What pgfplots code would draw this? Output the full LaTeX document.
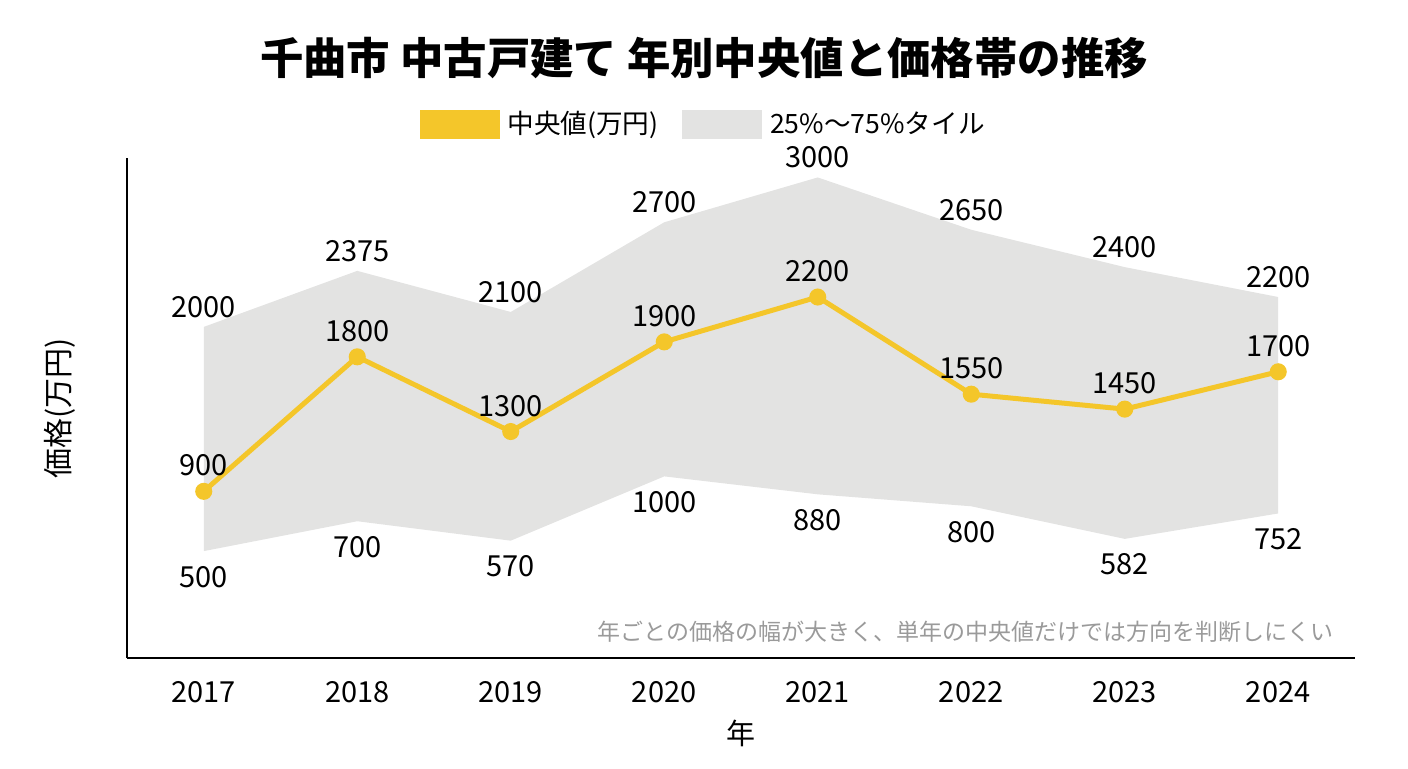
\documentclass[border=0pt]{standalone}
\usepackage{pgfplots}
\pgfplotsset{compat=1.18}
\usepackage{fontspec}
\setmainfont{Noto Sans CJK JP}
\definecolor{medyel}{HTML}{F4C62A}
\definecolor{bandgray}{HTML}{E3E3E2}
\definecolor{notegray}{HTML}{9A9A9A}
\begin{document}
\begin{tikzpicture}[x=1pt,y=1pt]
\path[use as bounding box] (0,0) rectangle (704,384);
\node[font=\fontsize{21.7}{26}\selectfont\bfseries] at (352,355) {千曲市 中古戸建て 年別中央値と価格帯の推移};
\begin{axis}[
  at={(63.5pt,55pt)}, anchor=south west,
  scale only axis, width=614pt, height=250pt,
  xmin=2016.5, xmax=2024.5, ymin=-215, ymax=3130,
  axis x line*=bottom, axis y line*=left,
  axis line style={line width=0.8pt, black},
  xtick={2017,...,2024}, ytick=\empty,
  major tick length=0pt,
  x tick label style={font=\fontsize{14.5}{17}\selectfont, yshift=-8pt},
  xticklabel={\pgfmathprintnumber[fixed,set thousands separator={}]{\tick}},
  /pgf/number format/assume math mode=true,
  /pgf/number format/set thousands separator={},
  xlabel={年}, xlabel style={font=\fontsize{14.5}{17}\selectfont, yshift=-2pt},
  clip=false,
  legend columns=2,
  legend style={draw=none, fill=none, at={(0.470,1.068)}, anchor=center, font=\fontsize{13.3}{16}\selectfont,
    /tikz/every odd column/.append style={column sep=2pt},
    /tikz/every even column/.append style={column sep=10pt}},
  legend cell align=left,
  nodes near coords style={font=\fontsize{14.5}{17}\selectfont},
]
\addlegendimage{legend image code/.code={\fill[medyel] (0pt,-7pt) rectangle (39.5pt,7pt);}}
\addlegendentry{中央値(万円)}
\addlegendimage{legend image code/.code={\fill[bandgray] (0pt,-7pt) rectangle (39.5pt,7pt);}}
\addlegendentry{25\%〜75\%タイル}
% band
\addplot[fill=bandgray, draw=none, forget plot] coordinates {
 (2017,2000) (2018,2375) (2019,2100) (2020,2700) (2021,3000) (2022,2650) (2023,2400) (2024,2200)
 (2024,752) (2023,582) (2022,800) (2021,880) (2020,1000) (2019,570) (2018,700) (2017,500)} -- cycle;
% upper labels
\addplot[draw=none, forget plot, nodes near coords, nodes near coords align={above}, every node near coord/.append style={yshift=1pt}] coordinates {
 (2017,2000) (2018,2375) (2019,2100) (2020,2700) (2021,3000) (2022,2650) (2023,2400) (2024,2200)};
% lower labels
\addplot[draw=none, forget plot, nodes near coords, nodes near coords align={below}, every node near coord/.append style={yshift=-4pt}] coordinates {
 (2017,500) (2018,700) (2019,570) (2020,1000) (2021,880) (2022,800) (2023,582) (2024,752)};
% median
\addplot[medyel, line width=2.5pt, mark=*, mark size=3pt, mark options={fill=medyel, draw=medyel}, forget plot,
  nodes near coords, nodes near coords align={above}, every node near coord/.append style={black, yshift=3pt}] coordinates {
 (2017,900) (2018,1800) (2019,1300) (2020,1900) (2021,2200) (2022,1550) (2023,1450) (2024,1700)};
\node[anchor=east, text=notegray, font=\fontsize{11.5}{13}\selectfont] at (rel axis cs:0.988,0.052) {年ごとの価格の幅が大きく、単年の中央値だけでは方向を判断しにくい};
\node[rotate=90, font=\fontsize{15}{18}\selectfont] at (rel axis cs:-0.0546,0.5) {価格(万円)};
\end{axis}
\end{tikzpicture}
\end{document}
